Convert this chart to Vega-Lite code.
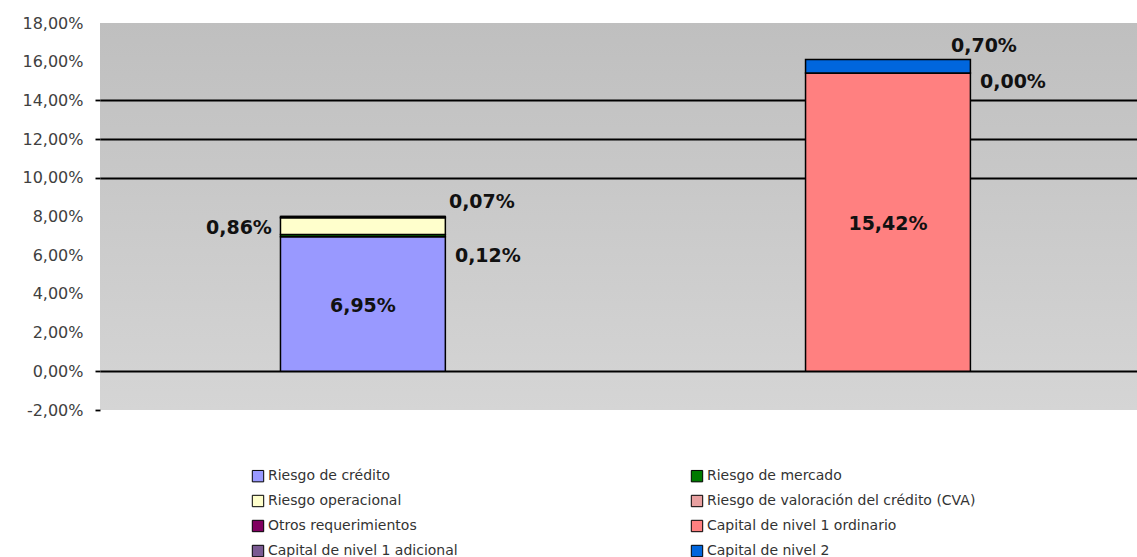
{
  "$schema": "https://vega.github.io/schema/vega-lite/v6.json",
  "autosize": {"type": "none"},
  "width": 1037,
  "height": 387,
  "padding": {"left": 100, "top": 23, "right": 0, "bottom": 147},
  "background": "#ffffff",
  "data": {
    "values": [
      {"bar": "Requerimientos", "k": 1, "serie": "Riesgo de crédito", "value": 0.0695},
      {"bar": "Requerimientos", "k": 2, "serie": "Riesgo de mercado", "value": 0.0012},
      {"bar": "Requerimientos", "k": 3, "serie": "Riesgo operacional", "value": 0.0086},
      {"bar": "Requerimientos", "k": 4, "serie": "Riesgo de valoración del crédito (CVA)", "value": 0.0007},
      {"bar": "Requerimientos", "k": 5, "serie": "Otros requerimientos", "value": 0},
      {"bar": "Capital", "k": 6, "serie": "Capital de nivel 1 ordinario", "value": 0.1542},
      {"bar": "Capital", "k": 7, "serie": "Capital de nivel 1 adicional", "value": 0.0},
      {"bar": "Capital", "k": 8, "serie": "Capital de nivel 2", "value": 0.007}
    ]
  },
  "transform": [
    {"stack": "value", "groupby": ["bar"], "sort": [{"field": "k", "order": "ascending"}], "as": ["y0", "y1"]}
  ],
  "encoding": {
    "x": {
      "field": "bar",
      "type": "nominal",
      "sort": ["Requerimientos", "Capital"],
      "scale": {"paddingInner": 0.686, "paddingOuter": 0.3305, "align": 0.52},
      "axis": null
    }
  },
  "layer": [
    {
      "mark": {"type": "bar", "stroke": "#000000", "strokeWidth": 1.5},
      "encoding": {
        "y": {
          "field": "y0",
          "type": "quantitative",
          "scale": {"domain": [-0.02, 0.18], "nice": false, "zero": false},
          "axis": {
            "title": null,
            "format": ".2%",
            "values": [-0.02, 0, 0.02, 0.04, 0.06, 0.08, 0.1, 0.12, 0.14, 0.16, 0.18],
            "tickCount": 20,
            "labelOverlap": false,
            "domain": false,
            "grid": true,
            "gridColor": "#000000",
            "gridWidth": 1.8,
            "gridOpacity": {"condition": {"test": "abs(datum.value) < 0.001 || (datum.value > 0.095 && datum.value < 0.145)", "value": 1}, "value": 0},
            "tickColor": "#000000",
            "tickSize": 5,
            "tickWidth": 1.8,
            "tickOpacity": {"condition": {"test": "abs(datum.value) < 0.001 || datum.value < -0.015 || (datum.value > 0.095 && datum.value < 0.145)", "value": 1}, "value": 0},
            "labelFont": "DejaVu Sans",
            "labelFontSize": 16,
            "labelColor": "#404040",
            "labelPadding": 12
          }
        },
        "y2": {"field": "y1"},
        "color": {
          "field": "serie",
          "type": "nominal",
          "sort": {"field": "k"},
          "scale": {
            "domain": [
              "Riesgo de crédito",
              "Riesgo de mercado",
              "Riesgo operacional",
              "Riesgo de valoración del crédito (CVA)",
              "Otros requerimientos",
              "Capital de nivel 1 ordinario",
              "Capital de nivel 1 adicional",
              "Capital de nivel 2"
            ],
            "range": ["#9999ff", "#007a00", "#ffffcc", "#e8a0a0", "#800060", "#ff8080", "#7a5a92", "#0066dd"]
          },
          "legend": {
            "title": null,
            "orient": "none",
            "legendX": 151,
            "legendY": 446,
            "columns": 2,
            "direction": "horizontal",
            "columnPadding": 231,
            "rowPadding": 9,
            "symbolType": "square",
            "symbolSize": 130,
            "symbolStrokeColor": "#000000",
            "symbolStrokeWidth": 1,
            "symbolOpacity": 1,
            "labelFont": "DejaVu Sans",
            "labelFontSize": 14,
            "labelColor": "#333333",
            "labelOffset": 3,
            "labelLimit": 400
          }
        }
      }
    },
    {
      "transform": [{"filter": "datum.k == 1"}],
      "mark": {"type": "text", "font": "DejaVu Sans", "fontWeight": "bold", "fontSize": 19, "color": "#111111", "baseline": "middle", "align": "center", "dy": 69},
      "encoding": {"y": {"field": "y1", "type": "quantitative"}, "text": {"field": "value", "type": "quantitative", "format": ".2%"}}
    },
    {
      "transform": [{"filter": "datum.k == 2"}],
      "mark": {"type": "text", "font": "DejaVu Sans", "fontWeight": "bold", "fontSize": 19, "color": "#111111", "baseline": "middle", "align": "left", "dx": 92, "dy": 22},
      "encoding": {"y": {"field": "y1", "type": "quantitative"}, "text": {"field": "value", "type": "quantitative", "format": ".2%"}}
    },
    {
      "transform": [{"filter": "datum.k == 3"}],
      "mark": {"type": "text", "font": "DejaVu Sans", "fontWeight": "bold", "fontSize": 19, "color": "#111111", "baseline": "middle", "align": "right", "dx": -91, "dy": 10},
      "encoding": {"y": {"field": "y1", "type": "quantitative"}, "text": {"field": "value", "type": "quantitative", "format": ".2%"}}
    },
    {
      "transform": [{"filter": "datum.k == 4"}],
      "mark": {"type": "text", "font": "DejaVu Sans", "fontWeight": "bold", "fontSize": 19, "color": "#111111", "baseline": "middle", "align": "left", "dx": 86, "dy": -15},
      "encoding": {"y": {"field": "y1", "type": "quantitative"}, "text": {"field": "value", "type": "quantitative", "format": ".2%"}}
    },
    {
      "transform": [{"filter": "datum.k == 6"}],
      "mark": {"type": "text", "font": "DejaVu Sans", "fontWeight": "bold", "fontSize": 19, "color": "#111111", "baseline": "middle", "align": "center", "dy": 151},
      "encoding": {"y": {"field": "y1", "type": "quantitative"}, "text": {"field": "value", "type": "quantitative", "format": ".2%"}}
    },
    {
      "transform": [{"filter": "datum.k == 7"}],
      "mark": {"type": "text", "font": "DejaVu Sans", "fontWeight": "bold", "fontSize": 19, "color": "#111111", "baseline": "middle", "align": "left", "dx": 92, "dy": 9},
      "encoding": {"y": {"field": "y1", "type": "quantitative"}, "text": {"field": "value", "type": "quantitative", "format": ".2%"}}
    },
    {
      "transform": [{"filter": "datum.k == 8"}],
      "mark": {"type": "text", "font": "DejaVu Sans", "fontWeight": "bold", "fontSize": 19, "color": "#111111", "baseline": "middle", "align": "left", "dx": 63, "dy": -13},
      "encoding": {"y": {"field": "y1", "type": "quantitative"}, "text": {"field": "value", "type": "quantitative", "format": ".2%"}}
    }
  ],
  "config": {
    "locale": {
      "number": {"decimal": ",", "thousands": ".", "grouping": [3], "currency": ["", " €"], "minus": "-"}
    },
    "view": {
      "stroke": null,
      "fill": {"gradient": "linear", "x1": 0, "y1": 0, "x2": 0, "y2": 1, "stops": [{"offset": 0, "color": "#bfbfbf"}, {"offset": 1, "color": "#d5d5d5"}]}
    }
  }
}
